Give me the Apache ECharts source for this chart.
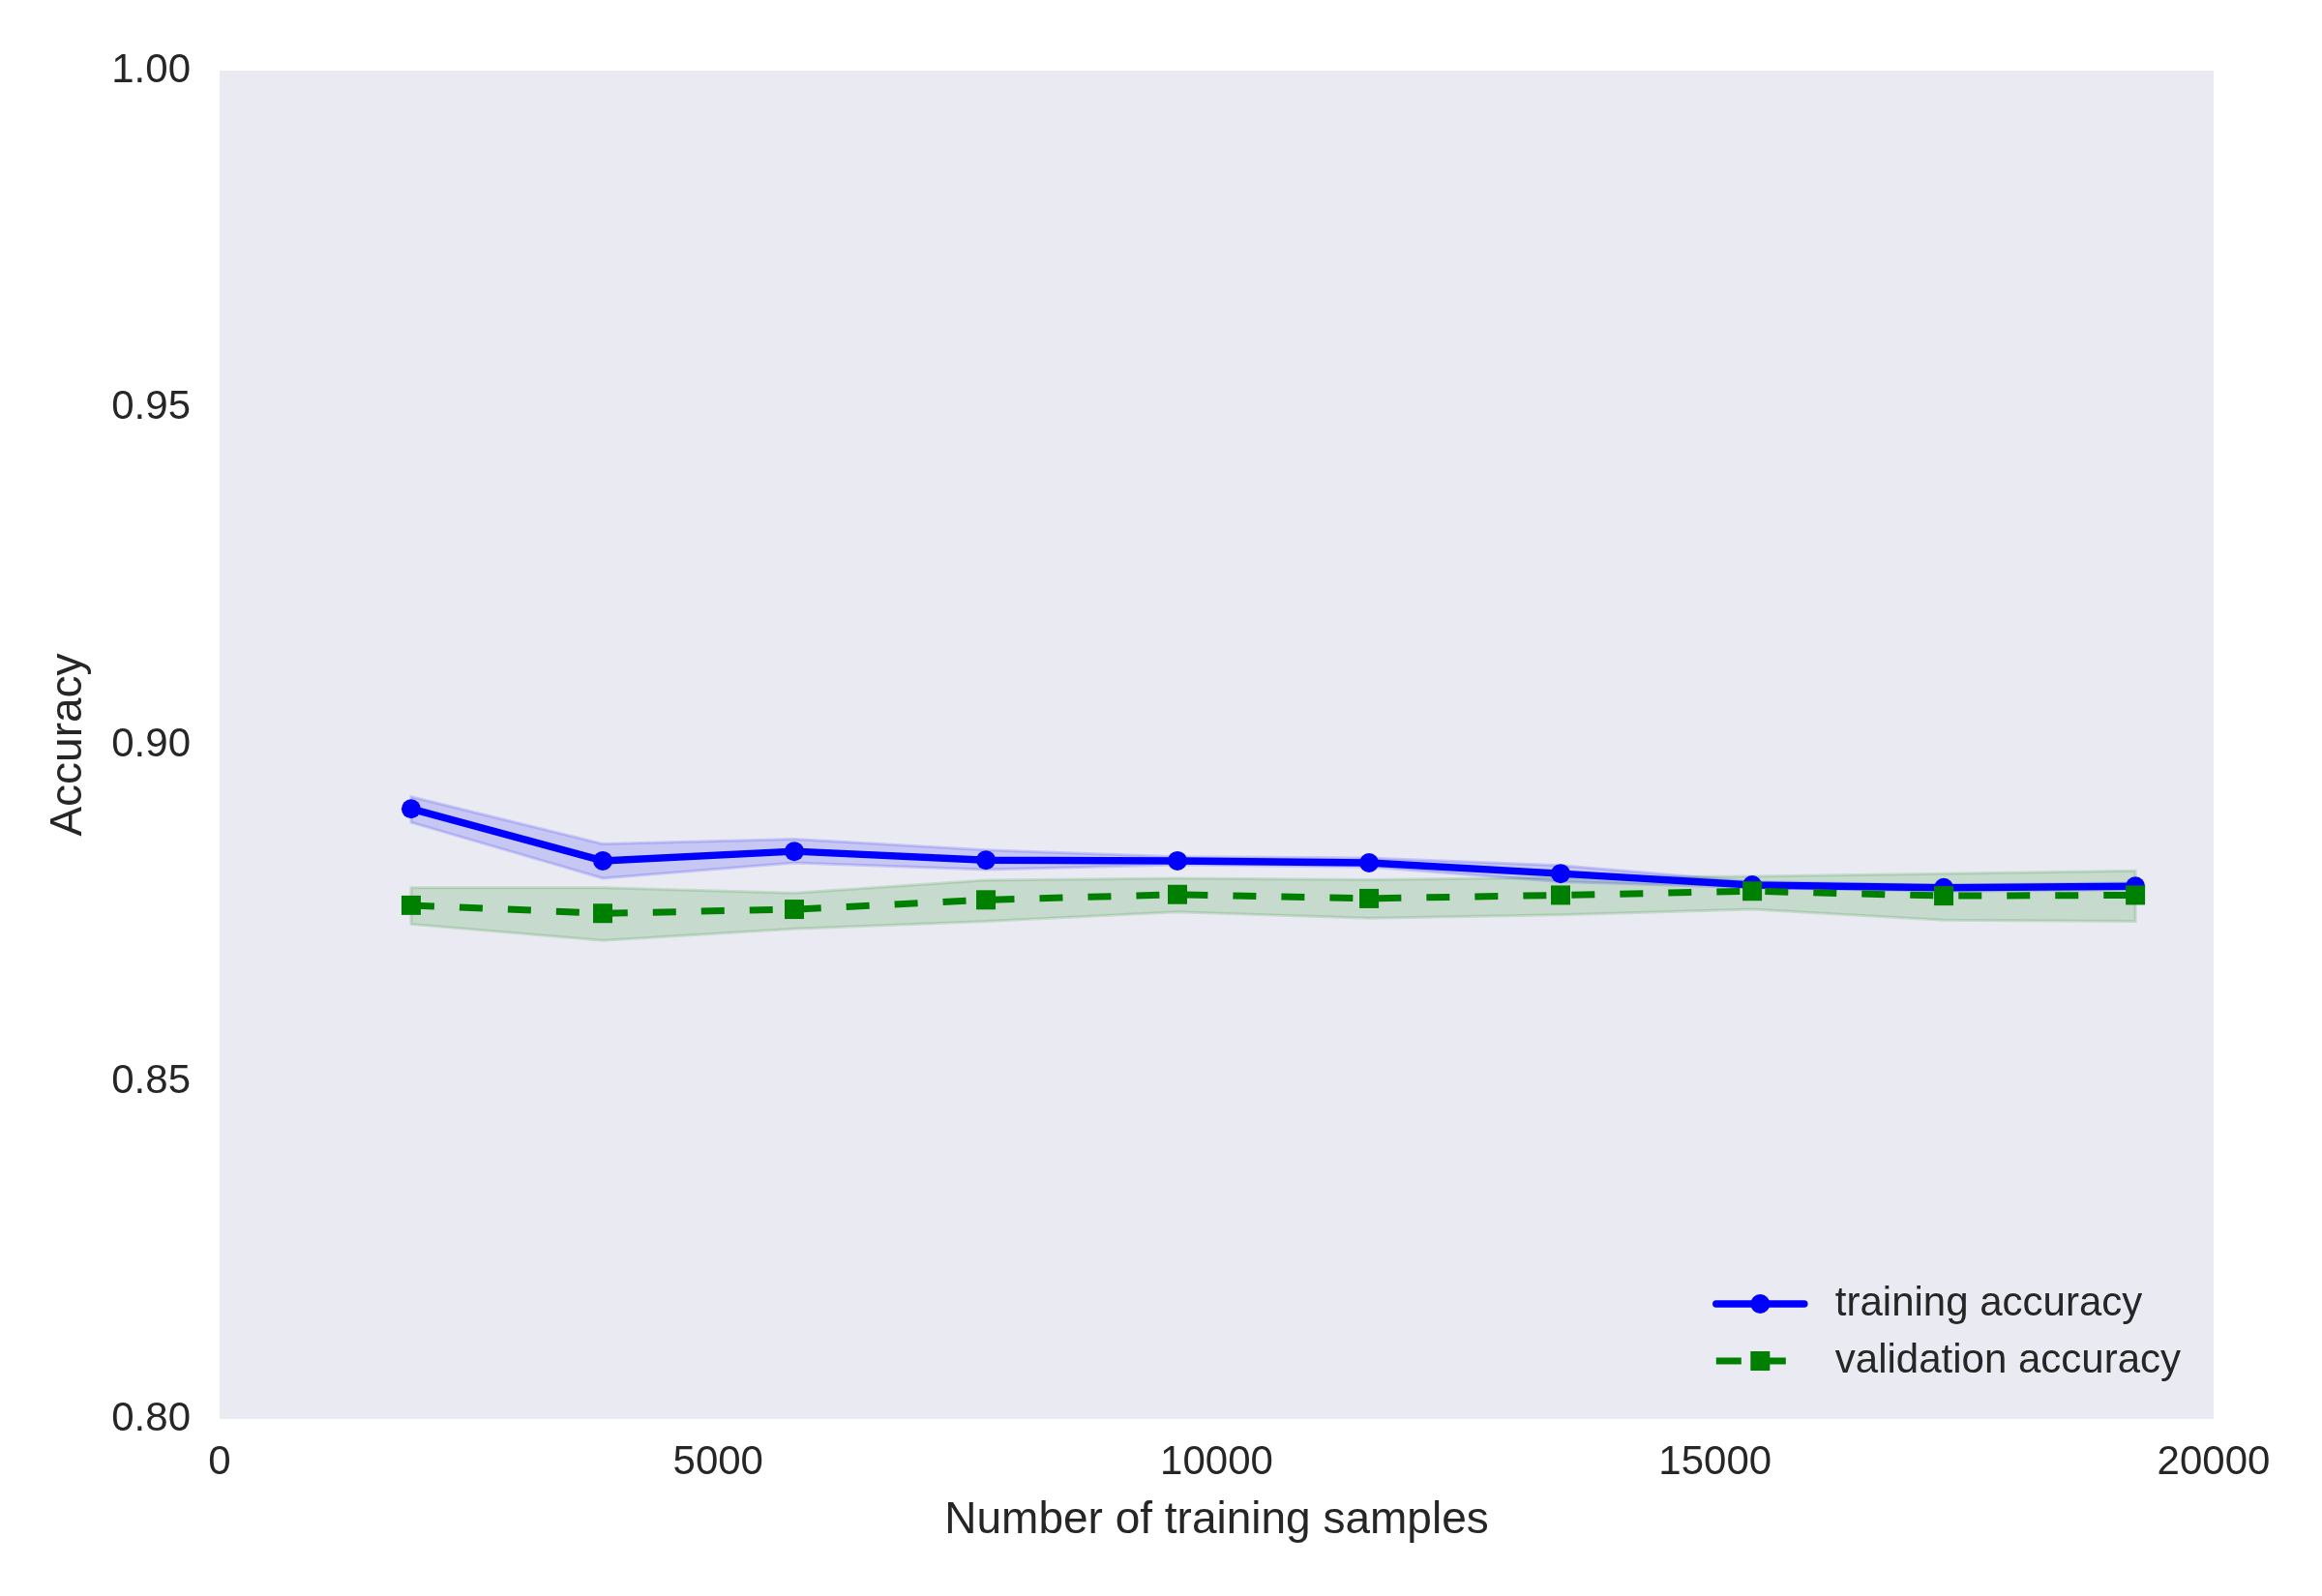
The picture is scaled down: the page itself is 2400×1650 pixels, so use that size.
<!DOCTYPE html>
<html>
<head>
<meta charset="utf-8">
<title>Learning curve</title>
<script src="https://cdn.jsdelivr.net/npm/echarts@6/dist/echarts.min.js"></script>
<style>
  html, body { margin: 0; padding: 0; background: #ffffff; }
  #main { width: 2400px; height: 1650px; }
</style>
</head>
<body>
<div id="main"></div>
<script>
// Datos
var trainSizes = [1921, 3843, 5764, 7686, 9607, 11529, 13450, 15372, 17293, 19215];

var trainMean  = [0.8905, 0.8828, 0.8842, 0.8829, 0.8828, 0.8825, 0.8809, 0.8792, 0.8788, 0.8790];
var trainUpper = [0.8923, 0.8853, 0.8860, 0.8844, 0.8834, 0.8832, 0.8821, 0.8797, 0.8792, 0.8795];
var trainLower = [0.8885, 0.8802, 0.8825, 0.8815, 0.8822, 0.8819, 0.8797, 0.8788, 0.8783, 0.8785];

var valMean  = [0.8762, 0.8750, 0.8756, 0.8770, 0.8778, 0.8772, 0.8777, 0.8783, 0.8776, 0.8777];
var valUpper = [0.8788, 0.8788, 0.8780, 0.8799, 0.8802, 0.8800, 0.8803, 0.8805, 0.8809, 0.8813];
var valLower = [0.8734, 0.8710, 0.8727, 0.8738, 0.8752, 0.8743, 0.8748, 0.8756, 0.8740, 0.8738];

var yTicks = [0.80, 0.85, 0.90, 0.95, 1.00];
var xTicks = [0, 5000, 10000, 15000, 20000];

// pares [x, y] para el eje de valores
function pairs(ys) {
    return trainSizes.map(function (x, i) { return [x, ys[i]]; });
}
function bandData(lo, up) {
    return trainSizes.map(function (x, i) { return [x, lo[i], up[i]]; });
}

// dibuja la banda completa (fill_between) con las escalas del eje
function bandRenderer(lo, up, fill) {
    return function (params, api) {
        if (params.dataIndex !== 0) return null;
        var pts = [];
        for (var i = 0; i < trainSizes.length; i++) {
            pts.push(api.coord([trainSizes[i], up[i]]));
        }
        for (var j = trainSizes.length - 1; j >= 0; j--) {
            pts.push(api.coord([trainSizes[j], lo[j]]));
        }
        return {
            type: 'polygon',
            shape: { points: pts },
            style: { fill: fill, stroke: fill, lineWidth: 3 },
            silent: true
        };
    };
}

var fuente = '"Liberation Sans", Arial, sans-serif';
var gris = '#262626';

var grafico = echarts.init(document.getElementById('main'));

var option = {
    animation: false,
    backgroundColor: '#ffffff',
    textStyle: { fontFamily: fuente },
    grid: {
        show: true,
        left: 227,
        right: 112,
        top: 73,
        bottom: 183,
        backgroundColor: '#EAEAF2',
        borderWidth: 0
    },
    legend: {
        data: [
            { name: 'training accuracy',
              lineStyle: { width: 7.5, color: '#0000ff', cap: 'round', type: 'solid' } },
            { name: 'validation accuracy',
              lineStyle: { width: 7, color: '#008000', type: [26, 20] } }
        ],
        orient: 'vertical',
        right: 146,
        top: 1327,
        padding: 0,
        itemWidth: 91,
        itemHeight: 25,
        itemGap: 17,
        textStyle: {
            fontFamily: fuente,
            fontSize: 42,
            lineHeight: 42,
            color: gris,
            padding: [0, 0, 0, 27]
        }
    },
    xAxis: {
        type: 'value',
        min: xTicks[0],
        max: xTicks[xTicks.length - 1],
        interval: xTicks[1] - xTicks[0],
        name: 'Number of training samples',
        nameLocation: 'middle',
        nameGap: 82,
        nameTextStyle: { fontFamily: fuente, fontSize: 46, color: gris },
        axisLine: { show: false },
        axisTick: { show: false },
        splitLine: { show: false },
        axisLabel: {
            fontFamily: fuente, fontSize: 42, color: gris, margin: 24,
            formatter: function (v) { return String(v); }
        }
    },
    yAxis: {
        type: 'value',
        min: yTicks[0],
        max: yTicks[yTicks.length - 1],
        interval: 0.05,
        name: 'Accuracy',
        nameLocation: 'middle',
        nameGap: 133,
        nameTextStyle: { fontFamily: fuente, fontSize: 46, color: gris },
        axisLine: { show: false },
        axisTick: { show: false },
        splitLine: { show: false },
        axisLabel: {
            fontFamily: fuente, fontSize: 42, color: gris, margin: 30,
            formatter: function (v) { return v.toFixed(2); }
        }
    },
    series: [
        {
            name: 'train band',
            type: 'custom',
            data: bandData(trainLower, trainUpper),
            encode: { x: 0, y: [1, 2] },
            renderItem: bandRenderer(trainLower, trainUpper, 'rgba(0,0,255,0.15)'),
            silent: true
        },
        {
            name: 'training accuracy',
            type: 'line',
            data: pairs(trainMean),
            symbol: 'circle',
            symbolSize: 20,
            showSymbol: true,
            color: '#0000ff',
            itemStyle: { color: '#0000ff', borderWidth: 0 },
            lineStyle: { width: 7.5, color: '#0000ff', cap: 'round', join: 'round' }
        },
        {
            name: 'val band',
            type: 'custom',
            data: bandData(valLower, valUpper),
            encode: { x: 0, y: [1, 2] },
            renderItem: bandRenderer(valLower, valUpper, 'rgba(0,128,0,0.15)'),
            silent: true
        },
        {
            name: 'validation accuracy',
            type: 'line',
            data: pairs(valMean),
            symbol: 'rect',
            symbolSize: 20,
            showSymbol: true,
            color: '#008000',
            itemStyle: { color: '#008000', borderWidth: 0 },
            lineStyle: { width: 7, color: '#008000', type: [24, 26] }
        }
    ]
};

grafico.setOption(option);
</script>
</body>
</html>
